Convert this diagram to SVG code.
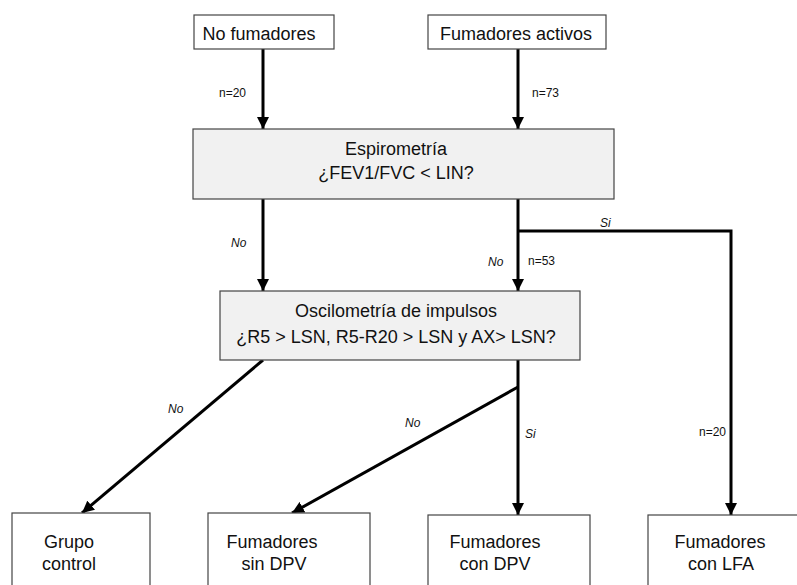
<svg xmlns="http://www.w3.org/2000/svg" width="797" height="585" viewBox="0 0 797 585">
<defs>
<marker id="ah" viewBox="0 0 10 10" refX="10" refY="5" markerWidth="4" markerHeight="4" orient="auto" markerUnits="strokeWidth">
<path d="M0,0 L10,5 L0,10 z" fill="#000"/>
</marker>
<style>
.box{fill:#fff;stroke:#444;stroke-width:1.2}
.gbox{fill:#f1f1f1;stroke:#444;stroke-width:1.2}
.t{font-family:"Liberation Sans",Arial,sans-serif;font-size:18px;fill:#111;text-anchor:middle}
.s{font-family:"Liberation Sans",Arial,sans-serif;font-size:12px;fill:#111}
.i{font-style:italic}
.c{fill:none;stroke:#000;stroke-width:3}
</style>
</defs>
<rect width="797" height="585" fill="#fff"/>
<g id="connectors">
<line class="c" x1="263" y1="49" x2="263" y2="129" marker-end="url(#ah)"/>
<line class="c" x1="518" y1="49" x2="518" y2="129" marker-end="url(#ah)"/>
<line class="c" x1="263" y1="199" x2="263" y2="291" marker-end="url(#ah)"/>
<line class="c" x1="518" y1="199" x2="518" y2="291" marker-end="url(#ah)"/>
<polyline class="c" points="518,231 731,231 731,515" marker-end="url(#ah)"/>
<line class="c" x1="263" y1="360" x2="82" y2="513" marker-end="url(#ah)"/>
<line class="c" x1="518" y1="360" x2="518" y2="515" marker-end="url(#ah)"/>
<line class="c" x1="518" y1="387" x2="292" y2="513" marker-end="url(#ah)"/>
<text class="s" x="219" y="97">n=20</text>
<text class="s" x="532" y="97">n=73</text>
<text class="s i" x="231" y="247">No</text>
<text class="s i" x="488" y="266">No</text>
<text class="s" x="528" y="265">n=53</text>
<text class="s i" x="600" y="227">Si</text>
<text class="s" x="699" y="436">n=20</text>
<text class="s i" x="168" y="413">No</text>
<text class="s i" x="405" y="427">No</text>
<text class="s i" x="525" y="438">Si</text>
</g>
<g id="no-fumadores">
<rect class="box" x="194" y="15" width="140" height="34"/>
<text class="t" x="259" y="40">No fumadores</text>
</g>
<g id="fumadores-activos">
<rect class="box" x="428" y="15" width="178" height="34"/>
<text class="t" x="516" y="40">Fumadores activos</text>
</g>
<g id="espirometria">
<rect class="gbox" x="193" y="129" width="421" height="70"/>
<text class="t" x="396" y="155">Espirometría</text>
<text class="t" x="396" y="179">¿FEV1/FVC &lt; LIN?</text>
</g>
<g id="oscilometria">
<rect class="gbox" x="220" y="291" width="360" height="69"/>
<text class="t" x="396" y="317">Oscilometría de impulsos</text>
<text class="t" x="396" y="343">¿R5 &gt; LSN, R5-R20 &gt; LSN y AX&gt; LSN?</text>
</g>
<g id="grupo-control">
<rect class="box" x="12" y="513" width="138" height="80"/>
<text class="t" x="69" y="548">Grupo</text>
<text class="t" x="69" y="570">control</text>
</g>
<g id="fumadores-sin-dpv">
<rect class="box" x="208" y="513" width="162" height="80"/>
<text class="t" x="272" y="548">Fumadores</text>
<text class="t" x="274" y="570">sin DPV</text>
</g>
<g id="fumadores-con-dpv">
<rect class="box" x="428" y="515" width="162" height="80"/>
<text class="t" x="495" y="548">Fumadores</text>
<text class="t" x="495" y="570">con DPV</text>
</g>
<g id="fumadores-con-lfa">
<rect class="box" x="648" y="515" width="160" height="80"/>
<text class="t" x="720" y="548">Fumadores</text>
<text class="t" x="721" y="570">con LFA</text>
</g>
</svg>
